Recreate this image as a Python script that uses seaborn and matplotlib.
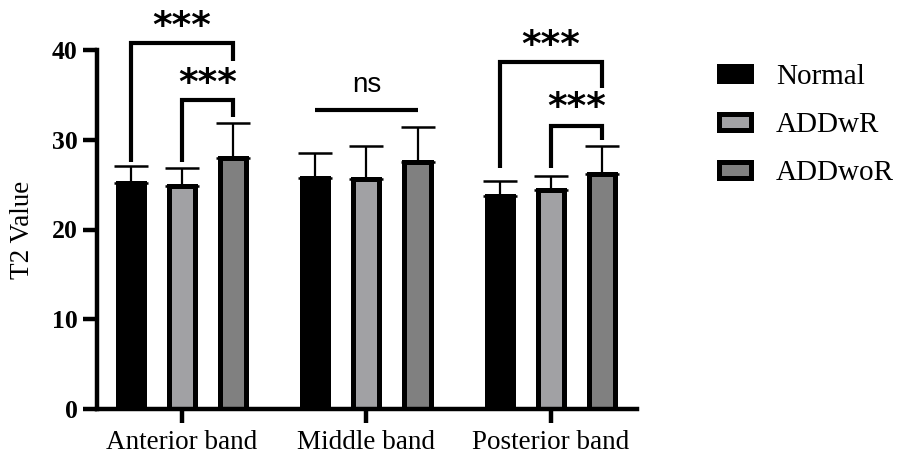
import matplotlib
matplotlib.use("Agg")
import matplotlib.pyplot as plt
import seaborn as sns
import pandas as pd
import numpy as np

# ---- data ----
categories = ["Anterior band", "Middle band", "Posterior band"]
groups = ["Normal", "ADDwR", "ADDwoR"]
normal_mean = [25.2, 25.7, 23.7]
addwr_mean = [24.9, 25.65, 24.4]
addwor_mean = [28.0, 27.55, 26.15]
normal_err = [1.85, 2.8, 1.75]
addwr_err = [2.0, 3.65, 1.55]
addwor_err = [3.85, 3.9, 3.15]
colors = ["#000000", "#A1A0A5", "#808080"]
yticks = [0, 10, 20, 30, 40]

# significance annotations
sig_cat = [0, 0, 1, 2, 2]
sig_from = [0, 1, 0, 0, 1]
sig_to = [2, 2, 2, 2, 2]
sig_top = [40.8, 34.4, 33.3, 38.65, 31.5]
sig_left_end = [27.5, 27.5, 33.3, 26.85, 26.85]
sig_right_end = [38.8, 32.5, 33.3, 35.8, 30.0]
sig_label = ["***", "***", "ns", "***", "***"]
sig_label_y = [41.4, 35.1, 35.35, 39.3, 32.4]

means = [normal_mean, addwr_mean, addwor_mean]
errs = [normal_err, addwr_err, addwor_err]
df = pd.DataFrame({
    "band": [c for g in groups for c in categories],
    "group": [g for g in groups for c in categories],
    "value": [v for m in means for v in m],
})

sns.set_style("ticks")
plt.rcParams["font.family"] = ["Liberation Serif", "DejaVu Serif"]
plt.rcParams["axes.edgecolor"] = "black"
plt.rcParams["xtick.color"] = "black"
plt.rcParams["ytick.color"] = "black"
plt.rcParams["text.color"] = "black"
plt.rcParams["axes.labelcolor"] = "black"

fig = plt.figure(figsize=(8.98, 4.57), dpi=100)
ax = fig.add_axes([97 / 898, 1 - 409 / 457, 540 / 898, 359 / 457])

sns.barplot(data=df, x="band", y="value", hue="group", order=categories,
            hue_order=groups, palette=colors, errorbar=None, width=0.83,
            gap=0.49, edgecolor="black", linewidth=3.6, ax=ax, legend=True,
            zorder=2)

bar_containers = list(ax.containers)[:len(groups)]
centers = [[p.get_x() + p.get_width() / 2 for p in cont] for cont in bar_containers]

for hi in range(len(groups)):
    ys = means[hi]
    ax.errorbar(centers[hi], ys, yerr=[np.zeros(len(ys)), errs[hi]], fmt="none",
                ecolor="black", elinewidth=1.6, capsize=12, capthick=1.8,
                zorder=1)

for i in range(len(sig_label)):
    c = sig_cat[i]
    x1 = centers[sig_from[i]][c]
    x2 = centers[sig_to[i]][c]
    ax.plot([x1, x1, x2, x2],
            [sig_left_end[i], sig_top[i], sig_top[i], sig_right_end[i]],
            color="black", lw=3, clip_on=False, solid_joinstyle="miter",
            solid_capstyle="butt")
    if sig_label[i] == "ns":
        ax.text((x1 + x2) / 2, sig_label_y[i], sig_label[i], ha="center",
                va="baseline", fontsize=20, family=["Liberation Sans"],
                color="black", clip_on=False)
    else:
        ax.text((x1 + x2) / 2, sig_label_y[i], sig_label[i], ha="center",
                va="baseline", fontsize=27, fontweight="bold",
                family=["DejaVu Sans"], color="black", clip_on=False)

ax.set_ylim(0, 40)
ax.set_xlim(-0.46, 2.466)
ax.set_yticks(yticks)
ax.set_yticklabels([str(t) for t in yticks], fontsize=18.5, fontweight="bold")
ax.tick_params(axis="x", labelsize=19.5, length=10, width=3.2, pad=5,
               color="black", labelcolor="black")
ax.tick_params(axis="y", length=10, width=3.2, pad=4, color="black",
               labelcolor="black")
ax.set_xlabel("")
ax.set_ylabel("T2 Value", fontsize=19.5, labelpad=12, color="black")
for s in ["left", "bottom"]:
    ax.spines[s].set_linewidth(3.2)
    ax.spines[s].set_color("black")
for s in ["top", "right"]:
    ax.spines[s].set_visible(False)

sns.move_legend(ax, "upper left", bbox_to_anchor=(719 / 898, 1 - 64 / 457),
                bbox_transform=fig.transFigure, frameon=False, title=None,
                fontsize=21, handlelength=1.1, handleheight=0.45,
                handletextpad=0.85, labelspacing=0.76, borderpad=0,
                borderaxespad=0)

fig.savefig("out.png", dpi=100)
